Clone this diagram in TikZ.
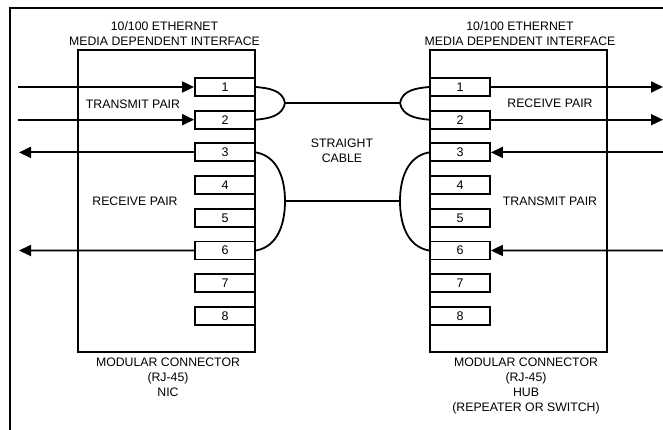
\documentclass[tikz,border=0pt]{standalone}
\usepackage{fontspec}
\setmainfont{Liberation Sans}
\usetikzlibrary{arrows.meta, positioning}

\begin{document}
\begin{tikzpicture}[
    x=1pt, y=-1pt,
    conn/.style={rectangle, draw, line width=1.8pt, minimum width=177pt, minimum height=302pt, inner sep=0pt},
    pinbox/.style={rectangle, draw, line width=1.8pt, minimum width=60pt, minimum height=18pt, inner sep=0pt, font=\fontsize{12.5}{14}\selectfont},
    lbl/.style={align=center, font=\fontsize{12.3}{15}\selectfont, inner sep=0pt},
    arr/.style={-{Triangle[length=12pt, width=11pt]}, line width=1.8pt},
    wire/.style={line width=1.8pt},
]
\useasboundingbox (0,0) rectangle (663,430);
\draw[line width=1.5pt] (10,430) -- (10,8) -- (663,8);

% connectors
\node[conn] (nic) at (166.5,201) {};
\node[conn] (hub) at (518.5,201) {};
\node[lbl, above=3pt of nic, xshift=-2pt] {10/100 ETHERNET\\MEDIA DEPENDENT INTERFACE};
\node[lbl, above=3pt of hub, xshift=1.5pt] {10/100 ETHERNET\\MEDIA DEPENDENT INTERFACE};
\node[lbl, below=5pt of nic, xshift=1.5pt] {MODULAR CONNECTOR\\(RJ-45)\\NIC};
\node[lbl, below=5pt of hub, xshift=7.5pt] {MODULAR CONNECTOR\\(RJ-45)\\HUB\\(REPEATER OR SWITCH)};

\foreach \i in {1,...,8} {
  \node[pinbox, fill=white] (l\i) at (225,{87+32.7*(\i-1)}) {\i};
  \node[pinbox, fill=white] (r\i) at (460,{87+32.7*(\i-1)}) {\i};
}

% pair labels
\node[lbl] at (133,104) {TRANSMIT PAIR};
\node[lbl] at (135,201) {RECEIVE PAIR};
\node[lbl] at (550,103) {RECEIVE PAIR};
\node[lbl] at (550,201) {TRANSMIT PAIR};
\node[lbl] (cable) at (342,151) {STRAIGHT\\CABLE};

% line ends
\coordinate (la1) at (18,87);
\coordinate (la2) at (18,119.7);
\coordinate (la3) at (19,152.4);
\coordinate (la6) at (19,250.5);
\coordinate (ra1) at (663,87);
\coordinate (ra2) at (663,119.7);
\coordinate (ra3) at (663,152.4);
\coordinate (ra6) at (663,250.5);

\draw[arr] (la1) -- (l1.west);
\draw[arr] (la2) -- (l2.west);
\draw[arr] (l3.west) -- (la3);
\draw[arr] (l6.west) -- (la6);
\draw[arr] (r1.east) -- (ra1);
\draw[arr] (r2.east) -- (ra2);
\draw[arr] (ra3) -- (r3.east);
\draw[arr] (ra6) -- (r6.east);

% straight cable
\coordinate (ja) at (285,103);
\coordinate (jb) at (400,103);
\coordinate (jc) at (285,201);
\coordinate (jd) at (400,201);
\draw[wire] (l1.east) to[out=-5, in=100] (ja) to[out=-100, in=5] (l2.east);
\draw[wire] (r1.west) to[out=185, in=80] (jb) to[out=-80, in=175] (r2.west);
\draw[wire] (ja) -- (jb);
\draw[wire] (l3.east) to[out=-10, in=90] (jc) to[out=-90, in=10] (l6.east);
\draw[wire] (r3.west) to[out=190, in=90] (jd) to[out=-90, in=170] (r6.west);
\draw[wire] (jc) -- (jd);
\end{tikzpicture}
\end{document}
